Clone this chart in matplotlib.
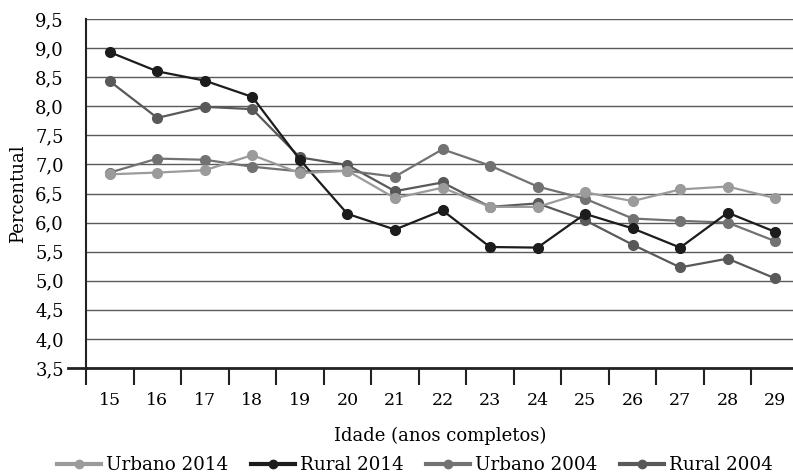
import matplotlib

matplotlib.use("Agg")

import matplotlib.pyplot as plt
from matplotlib.lines import Line2D

ages = list(range(15, 30))
age_labels = [str(a) for a in ages]

urbano_2014 = [6.83, 6.86, 6.90, 7.16, 6.85, 6.89, 6.42, 6.60, 6.27, 6.27, 6.52, 6.37, 6.57, 6.62, 6.42]
rural_2014 = [8.93, 8.60, 8.44, 8.16, 7.08, 6.15, 5.88, 6.21, 5.58, 5.57, 6.15, 5.90, 5.57, 6.17, 5.84]
urbano_2004 = [6.86, 7.10, 7.08, 6.96, 6.88, 6.89, 6.79, 7.26, 6.98, 6.62, 6.41, 6.07, 6.03, 6.00, 5.68]
rural_2004 = [8.43, 7.80, 7.99, 7.95, 7.12, 6.99, 6.54, 6.69, 6.27, 6.33, 6.04, 5.62, 5.23, 5.38, 5.04]

y_ticks = [3.5 + 0.5 * i for i in range(13)]

series = [
    ("Urbano 2014", urbano_2014, "#9b9b9b", 5),
    ("Rural 2014", rural_2014, "#1c1c1c", 4),
    ("Urbano 2004", urbano_2004, "#727272", 3),
    ("Rural 2004", rural_2004, "#595959", 2),
]

plt.rcParams["font.family"] = ["DejaVu Serif"]

fig = plt.figure(figsize=(7.93, 4.76), dpi=100)
ax = fig.add_axes([86 / 793, 1 - 368 / 476, 713 / 793, (368 - 19) / 476])

x = list(range(len(ages)))
for name, values, color, z in series:
    ax.plot(x, values, color=color, linewidth=1.6, marker="o", markersize=7,
            markeredgecolor=color, markerfacecolor=color, zorder=z, label=name)

ax.set_xlim(-0.5, len(ages) - 0.5)
ax.set_ylim(3.5, 9.5)
ax.set_yticks(y_ticks)
ax.set_yticklabels([f"{v:.1f}".replace(".", ",") for v in y_ticks])
ax.set_xticks(x)
ax.set_xticklabels(age_labels)
ax.set_xticks([i - 0.5 for i in range(len(ages) + 1)], minor=True)
ax.tick_params(axis="x", which="major", length=0, pad=17, labelsize=12.5)
ax.tick_params(axis="x", which="minor", length=12, width=1.5, color="#222222")
ax.tick_params(axis="y", length=0, pad=16, labelsize=13)

ax.grid(axis="y", color="#5a5a5a", linewidth=1.0)
ax.set_axisbelow(True)
for side in ("top", "right"):
    ax.spines[side].set_visible(False)
ax.spines["left"].set_linewidth(1.5)
ax.spines["left"].set_color("#222222")
ax.spines["bottom"].set_linewidth(2)
ax.spines["bottom"].set_color("#222222")
ax.plot([-0.025, 0], [0, 0], transform=ax.transAxes, color="#222222",
        linewidth=2, clip_on=False)

ax.set_ylabel("Percentual", fontsize=13, labelpad=6)
fig.text(440 / 793, 1 - 436 / 476, "Idade (anos completos)", ha="center",
         va="center", fontsize=13)

handles = [
    Line2D([], [], color=color, linewidth=3, marker="o", markersize=6,
           markerfacecolor=color, markeredgecolor=color)
    for _, _, color, _ in series
]
fig.legend(handles, [s[0] for s in series], loc="center", ncol=4,
           bbox_to_anchor=(415 / 793, 1 - 465 / 476), frameon=False,
           fontsize=13.2, handlelength=2.4, handletextpad=0.3, columnspacing=1.2)

fig.savefig("out.png", dpi=100)
